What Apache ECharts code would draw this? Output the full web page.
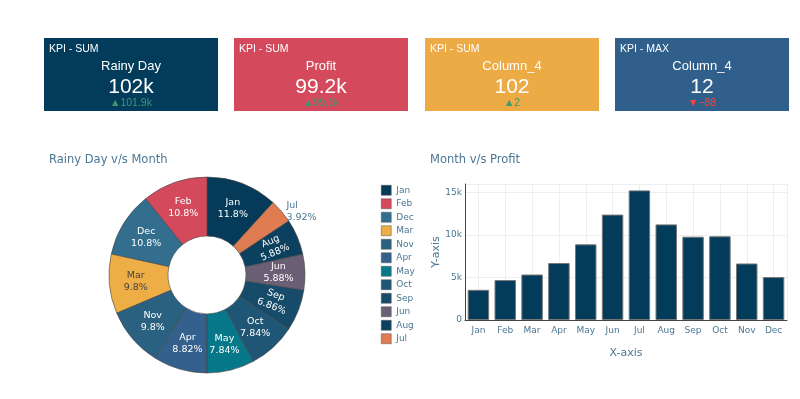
<!DOCTYPE html>
<html>
<head>
<meta charset="utf-8">
<script src="https://cdn.jsdelivr.net/npm/echarts@6/dist/echarts.min.js"></script>
<style>
  html, body { margin: 0; padding: 0; background: #fff; }
  #main { width: 800px; height: 399px; }
</style>
</head>
<body>
<div id="main"></div>
<script>
// KPI cards
var kpiTypes = ["KPI - SUM", "KPI - SUM", "KPI - SUM", "KPI - MAX"];
var kpiTitles = ["Rainy Day", "Profit", "Column_4", "Column_4"];
var kpiValues = ["102k", "99.2k", "102", "12"];
var kpiDeltas = ["▲101.9k", "▲99.1k", "▲2", "▼−88"];
var kpiUp = [true, true, true, false];

// pie: rainy days per month (legend order)
var pieMonths = ["Jan", "Feb", "Dec", "Mar", "Nov", "Apr", "May", "Oct", "Sep", "Jun", "Aug", "Jul"];
var pieValues = [12, 11, 11, 10, 10, 9, 8, 8, 7, 6, 6, 4];

// bar: profit per month
var barMonths = ["Jan", "Feb", "Mar", "Apr", "May", "Jun", "Jul", "Aug", "Sep", "Oct", "Nov", "Dec"];
var barValues = [3550, 4700, 5350, 6700, 8900, 12400, 15250, 11250, 9800, 9850, 6650, 5050];

var cardColors = ["#033b5a", "#d5495c", "#edab46", "#2f5f8a"];
var cardLeft = [44, 234, 425, 615];
var sliceColors = {
  Jan: "#063a59", Feb: "#d5495c", Dec: "#336e8e", Mar: "#eeae46",
  Nov: "#2b6180", Apr: "#33608c", May: "#077889", Oct: "#1f5676",
  Sep: "#164b6a", Jun: "#6a5f74", Aug: "#0c405f", Jul: "#e07c52"
};
var txtColor = "#4a7793";
var kpiFont = "Liberation Sans";

var graphics = [];
kpiTypes.forEach(function (t, i) {
  var x = cardLeft[i];
  graphics.push({
    type: "rect", left: x, top: 38,
    shape: { width: 174, height: 73 },
    style: { fill: cardColors[i] }
  });
  graphics.push({
    type: "text", x: x + 5, y: 49,
    style: { text: t, fill: "#fff", fontSize: 10.5, fontFamily: kpiFont, verticalAlign: "middle" }
  });
  graphics.push({
    type: "text", x: x + 87, y: 66,
    style: { text: kpiTitles[i], fill: "#fff", fontSize: 13, fontFamily: kpiFont, align: "center", verticalAlign: "middle" }
  });
  graphics.push({
    type: "text", x: x + 87, y: 87,
    style: { text: kpiValues[i], fill: "#fff", fontSize: 21, fontFamily: kpiFont, align: "center", verticalAlign: "middle" }
  });
  graphics.push({
    type: "text", x: x + 87, y: 103.5,
    style: { text: kpiDeltas[i], fill: kpiUp[i] ? "#3d9970" : "#ff4136", fontSize: 10.5, fontFamily: kpiFont, align: "center", verticalAlign: "middle" }
  });
});

var pieTotal = pieValues.reduce(function (a, b) { return a + b; }, 0);
var pieData = pieMonths.map(function (m, i) {
  var item = { name: m, value: pieValues[i], itemStyle: { color: sliceColors[m] } };
  if (m === "Jul") {
    item.label = { position: "outside", color: txtColor, align: "center" };
    item.labelLine = { show: false, length: 0, length2: 0 };
  }
  if (m === "Mar") item.label = { color: "#444" };
  if (m === "Aug" || m === "Sep") item.label = { rotate: "radial" };
  return item;
});

var helperCats = [];
for (var k = 0; k < barMonths.length * 2; k++) helperCats.push("");

var option = {
  animation: false,
  textStyle: { fontFamily: "DejaVu Sans" },
  graphic: graphics,
  title: [
    { text: "Rainy Day v/s Month", left: 44, top: 149, textStyle: { fontSize: 11.5, fontWeight: "normal", color: txtColor, fontFamily: "DejaVu Sans" } },
    { text: "Month v/s Profit", left: 425, top: 149, textStyle: { fontSize: 11.5, fontWeight: "normal", color: txtColor, fontFamily: "DejaVu Sans" } }
  ],
  legend: {
    orient: "vertical", left: 376, top: 180,
    itemWidth: 10, itemHeight: 10, itemGap: 3,
    icon: "rect",
    data: pieMonths,
    textStyle: { color: txtColor, fontSize: 9, fontFamily: "DejaVu Sans" },
    itemStyle: { borderColor: "#555", borderWidth: 0.5 }
  },
  grid: { left: 465, right: 13, top: 184, bottom: 79 },
  xAxis: [
    {
      type: "category", data: barMonths,
      axisLine: { lineStyle: { color: "#444" } },
      axisTick: { show: false },
      axisLabel: { color: txtColor, fontSize: 9, margin: 6 },
      splitLine: { show: false },
      name: "X-axis", nameLocation: "middle", nameGap: 28,
      nameTextStyle: { color: txtColor, fontSize: 11 }
    },
    {
      type: "category", data: helperCats, position: "bottom",
      axisLine: { show: false }, axisTick: { show: false }, axisLabel: { show: false },
      splitLine: { show: true, interval: function (i) { return i % 2 === 1; }, lineStyle: { color: "#eeeeee" } }
    }
  ],
  yAxis: {
    type: "value", min: 0, max: 16000, interval: 5000,
    axisLine: { show: true, lineStyle: { color: "#444" } },
    axisTick: { show: false },
    axisLabel: {
      color: txtColor, fontSize: 9, margin: 3, showMaxLabel: false,
      formatter: function (v) { return v % 5000 !== 0 ? "" : (v === 0 ? "0" : (v / 1000) + "k"); }
    },
    splitLine: { lineStyle: { color: "#eeeeee" } },
    name: "Y-axis", nameLocation: "middle", nameGap: 23, nameMoveOverlap: false,
    nameTextStyle: { color: txtColor, fontSize: 11 }
  },
  series: [
    {
      type: "pie",
      center: [207, 275],
      radius: [39, 98],
      clockwise: false,
      startAngle: 90 - 360 * pieValues[0] / pieTotal,
      avoidLabelOverlap: false,
      labelLayout: { hideOverlap: false },
      data: pieData,
      itemStyle: { borderColor: "#444", borderWidth: 0.6 },
      label: {
        show: true, position: "inside", color: "#fff",
        fontSize: 9.5, fontFamily: "DejaVu Sans", lineHeight: 12,
        formatter: function (p) { return p.name + "\n" + (+(p.value / pieTotal * 100).toPrecision(3)) + "%"; }
      },
      labelLine: { show: false }
    },
    {
      type: "bar",
      data: barValues,
      barWidth: "80%",
      itemStyle: { color: "#033b5a", borderColor: "#777", borderWidth: 1 }
    }
  ]
};

var chart = echarts.init(document.getElementById("main"));
chart.setOption(option);
</script>
</body>
</html>
